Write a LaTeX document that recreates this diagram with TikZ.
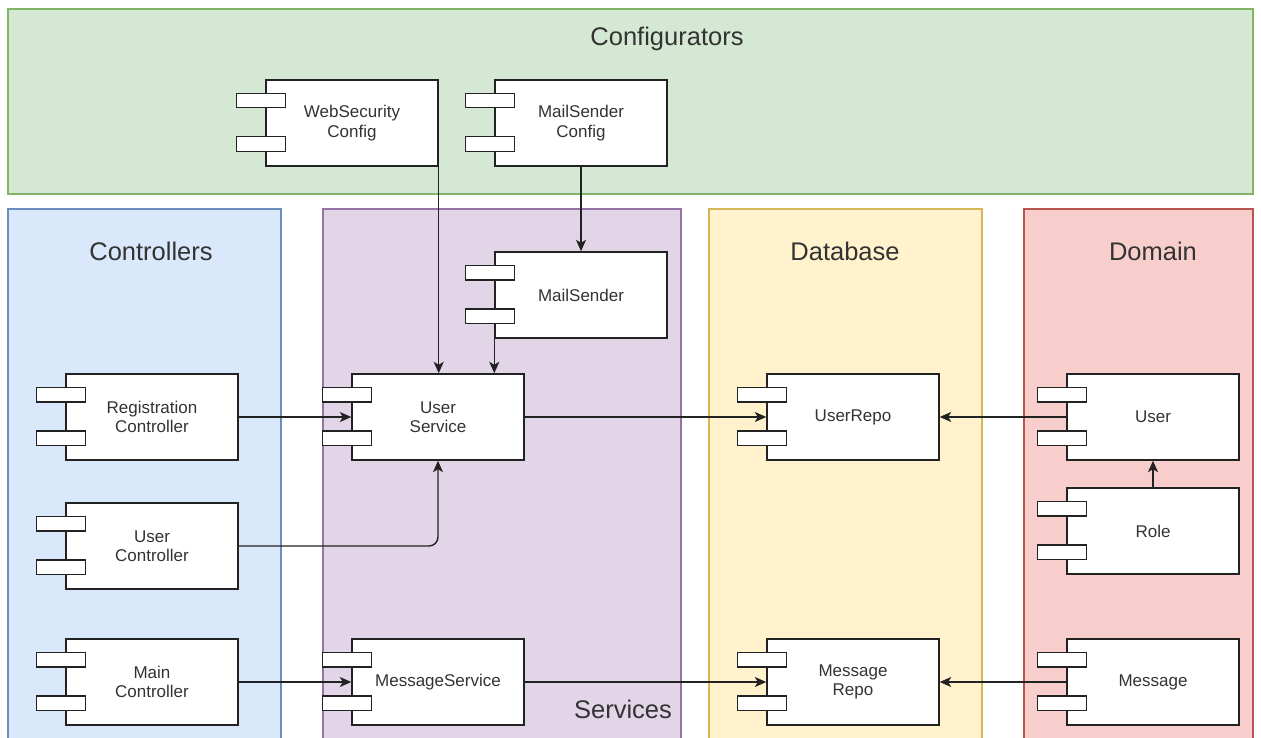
\documentclass[tikz,border=0pt]{standalone}
\usepackage{fontspec}
\setmainfont{Liberation Sans}
\usetikzlibrary{arrows.meta}
\definecolor{gfill}{HTML}{D5E8D4}\definecolor{gline}{HTML}{82B366}
\definecolor{bfill}{HTML}{DAE8FC}\definecolor{bline}{HTML}{6C8EBF}
\definecolor{pfill}{HTML}{E1D5E7}\definecolor{pline}{HTML}{9673A6}
\definecolor{yfill}{HTML}{FFF2CC}\definecolor{yline}{HTML}{D6B656}
\definecolor{rfill}{HTML}{F8CECC}\definecolor{rline}{HTML}{B85450}
\definecolor{txt}{HTML}{333333}
\definecolor{edge}{HTML}{222222}
\newcommand\comp[4]{%
  \node[compbody] (#1) at (#2,#3) {#4};
  \draw[compline] ([shift={(-29,14)}]#1.north west) rectangle ++(49,14.5);
  \draw[compline] ([shift={(-29,57.5)}]#1.north west) rectangle ++(49,14.5);
}
\begin{document}
\begin{tikzpicture}[x=1pt,y=-1pt,
  panel/.style={line width=1.2pt},
  title/.style={text=txt,font=\fontsize{25.5}{30}\selectfont,inner sep=0pt},
  compbody/.style={draw=edge,fill=white,line width=1.4pt,minimum width=172pt,minimum height=86pt,
    inner sep=0pt,align=center,text=txt,font=\fontsize{17}{19.5}\selectfont},
  compline/.style={draw=edge,fill=white,line width=1.4pt},
  conn/.style={draw=edge,line width=1.4pt,-{Stealth[length=11.5pt,width=10pt,inset=3pt]}}]
\useasboundingbox (0,0) rectangle (1261,738);
\clip (0,0) rectangle (1261,738);
\fill[white] (0,0) rectangle (1261,738);
% panels
\path[panel,draw=gline,fill=gfill] (8,9) rectangle (1253,194);
\path[panel,draw=bline,fill=bfill] (8,209) rectangle (281,760);
\path[panel,draw=pline,fill=pfill] (323,209) rectangle (681,760);
\path[panel,draw=yline,fill=yfill] (709,209) rectangle (982,760);
\path[panel,draw=rline,fill=rfill] (1024,209) rectangle (1253,760);
\node[title] (tconf) at (667,38.5) {Configurators};
\node[title] (tctrl) at (151,251) {Controllers};
\node[title] (tdb) at (845,251) {Database};
\node[title] (tdom) at (1153,251) {Domain};
\node[title] (tsvc) at (623,709) {Services};
% components
\comp{wsc}{352}{123}{WebSecurity\\Config}
\comp{msc}{581}{123}{MailSender\\Config}
\comp{ms}{581}{295}{MailSender}
\comp{usvc}{438}{417}{User\\Service}
\comp{rc}{152}{417}{Registration\\Controller}
\comp{uc}{152}{546}{User\\Controller}
\comp{mc}{152}{682}{Main\\Controller}
\comp{msvc}{438}{682}{MessageService}
\comp{urepo}{853}{417}{UserRepo}
\comp{mrepo}{853}{682}{Message\\Repo}
\comp{user}{1153}{417}{User}
\comp{role}{1153}{531}{Role}
\comp{msg}{1153}{682}{Message}
% connectors
\draw[conn] (wsc.south east) -- (wsc.south east |- usvc.north);
\draw[conn] (msc.south) -- (ms.north);
\draw[conn] (ms.south west) -- (ms.south west |- usvc.north);
\draw[conn] (rc.east) -- (usvc.west);
\draw[conn,rounded corners=9pt] (uc.east) -| (usvc.south);
\draw[conn] (mc.east) -- (msvc.west);
\draw[conn] (usvc.east) -- (urepo.west);
\draw[conn] (msvc.east) -- (mrepo.west);
\draw[conn] (user.west) -- (urepo.east);
\draw[conn] (msg.west) -- (mrepo.east);
\draw[conn] (role.north) -- (user.south);
\end{tikzpicture}
\end{document}
